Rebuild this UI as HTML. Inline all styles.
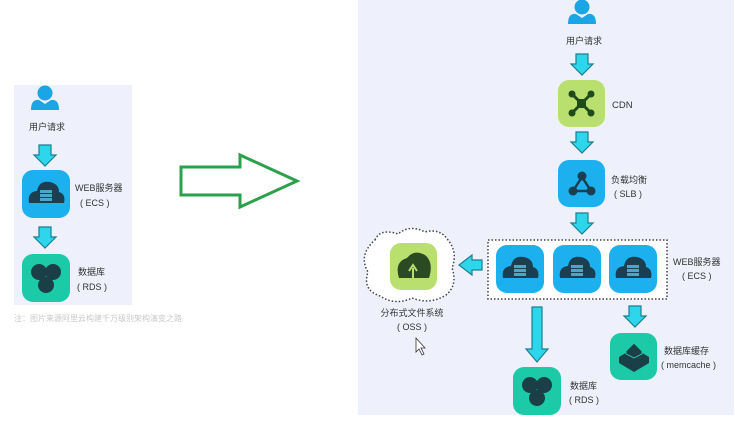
<!DOCTYPE html>
<html><head><meta charset="utf-8"><style>
html,body{margin:0;padding:0;background:#fff;}
svg{display:block;}
text{font-family:"Liberation Sans","Noto Sans CJK SC",sans-serif;fill:#333;}
</style></head><body>
<svg width="735" height="427" viewBox="0 0 735 427" xmlns="http://www.w3.org/2000/svg">
<defs>
<g id="user"><circle cx="0" cy="-7" r="7.5" fill="#1aa6e6"/><path d="M-14 10 Q-14 -1 -6 0 L0 4 L6 0 Q14 -1 14 10 Z" fill="#1aa6e6"/></g>
<g id="ecs"><rect x="-24" y="-24" width="48" height="48" rx="11" fill="#1cb0ef"/>
<path d="M-17 9 Q-19 -2 -9 -3 Q-7 -14 4 -12 Q13 -10 13 -2 Q20 0 18 9 Z" fill="#1b3f50"/>
<rect x="-6" y="-4" width="12" height="3" fill="#4aa7c9"/><rect x="-6" y="0" width="12" height="3" fill="#4aa7c9"/><rect x="-6" y="4" width="12" height="3" fill="#4aa7c9"/></g>
<g id="rds"><rect x="-24" y="-24" width="48" height="48" rx="11" fill="#1ccaa8"/>
<circle cx="-7" cy="-6" r="8" fill="#1b3f47"/><circle cx="7" cy="-6" r="8" fill="#1b3f47"/><circle cx="0" cy="7" r="8" fill="#1b3f47"/></g>
<path id="dn" d="M-6 0 H6 V10 H11 L0 21 L-11 10 H-6 Z" fill="#2ed6ec" stroke="#1a7f8f" stroke-width="1.2"/>
</defs>
<rect x="14" y="85" width="118" height="220" fill="#eef1fb"/>
<use href="#user" x="45" y="100"/>
<text x="47" y="130" font-size="9" text-anchor="middle">用户请求</text>
<use href="#dn" x="45" y="145"/>
<use href="#ecs" x="46" y="194"/>
<text x="75" y="191" font-size="9">WEB服务器</text>
<text x="80" y="206" font-size="9">( ECS )</text>
<use href="#dn" x="45" y="227"/>
<use href="#rds" x="46" y="278"/>
<text x="78" y="275" font-size="9">数据库</text>
<text x="77" y="290" font-size="9">( RDS )</text>
<text x="14" y="321" font-size="8" style="fill:#c9c9c9">注：图片来源阿里云构建千万级别架构演变之路</text>
<path d="M181 167 H240 V155 L297 181 L240 207 V195 H181 Z" fill="none" stroke="#2aa14a" stroke-width="3"/>
<rect x="358" y="0" width="376" height="415" fill="#eef1fb"/>
<use href="#user" x="582" y="14"/>
<text x="584" y="44" font-size="9" text-anchor="middle">用户请求</text>
<use href="#dn" x="582" y="54"/>
<rect x="558" y="80" width="47" height="47" rx="11" fill="#b9df6e"/>
<g stroke="#1f4a1a" stroke-width="3"><line x1="572" y1="94" x2="591" y2="113"/><line x1="591" y1="94" x2="572" y2="113"/></g>
<g fill="#1f4a1a"><circle cx="572" cy="94" r="3.5"/><circle cx="591" cy="94" r="3.5"/><circle cx="572" cy="113" r="3.5"/><circle cx="591" cy="113" r="3.5"/><rect x="577" y="99" width="9" height="9"/></g>
<text x="612" y="108" font-size="9.5">CDN</text>
<use href="#dn" x="582" y="132"/>
<rect x="558" y="160" width="47" height="47" rx="11" fill="#1cb0ef"/>
<g stroke="#1b3f50" stroke-width="2.5"><line x1="582" y1="177" x2="573" y2="191"/><line x1="582" y1="177" x2="591" y2="191"/><line x1="573" y1="191" x2="591" y2="191"/></g>
<g fill="#1b3f50"><circle cx="582" cy="176" r="4.5"/><circle cx="573" cy="191" r="4.5"/><circle cx="591" cy="191" r="4.5"/></g>
<text x="611" y="183" font-size="9">负载均衡</text>
<text x="614" y="197" font-size="9">( SLB )</text>
<use href="#dn" x="582" y="213"/>
<rect x="488" y="240" width="179" height="59" fill="#fff" stroke="#444" stroke-width="1.5" stroke-dasharray="1.5 2"/>
<use href="#ecs" x="520" y="269"/><use href="#ecs" x="577" y="269"/><use href="#ecs" x="633" y="269"/>
<text x="673" y="265" font-size="9">WEB服务器</text>
<text x="682" y="279" font-size="9">( ECS )</text>
<path d="M482 260 V270 H472 V275 L459 265 L472 255 V260 Z" fill="#2ed6ec" stroke="#1a7f8f" stroke-width="1.2"/>
<path d="M375 240 Q380 228 398 234 Q410 224 425 232 Q440 228 448 240 Q458 252 452 268 Q458 285 446 295 Q430 305 412 298 Q395 306 380 296 Q362 290 368 272 Q358 255 375 240 Z" fill="#fff" stroke="#444" stroke-width="1.5" stroke-dasharray="1.5 2"/>
<rect x="390" y="243" width="47" height="47" rx="11" fill="#b9df6e"/>
<path d="M399 278 Q394 262 407 258 Q414 249 425 255 Q434 262 429 278 Z" fill="#2c4a22"/>
<path d="M413 278 V268 M409 271 L413 265 L417 271" stroke="#b9df6e" stroke-width="2" fill="none"/>
<text x="412" y="316" font-size="9" text-anchor="middle">分布式文件系统</text>
<text x="412" y="330" font-size="9" text-anchor="middle">( OSS )</text>
<path d="M416 338 V352 L419 349 L422 355 L424 354 L421 348 L425 348 Z" fill="#fff" stroke="#333" stroke-width="0.8"/>
<path d="M532 307 H542 V349 H548 L537 362 L526 349 H532 Z" fill="#2ed6ec" stroke="#1a7f8f" stroke-width="1.2"/>
<use href="#rds" x="537" y="391"/>
<text x="570" y="389" font-size="9">数据库</text>
<text x="569" y="403" font-size="9">( RDS )</text>
<use href="#dn" x="635" y="306"/>
<rect x="610" y="333" width="47" height="47" rx="11" fill="#1ccaa8"/>
<path d="M619 357 L634 348 L649 357 V363 L634 372 L619 363 Z" fill="#1b3f47"/>
<path d="M626 351 L634 343 L642 351 V354 L634 358 L626 354 Z" fill="#1b3f47" stroke="#1ccaa8" stroke-width="1"/>
<text x="664" y="354" font-size="9">数据库缓存</text>
<text x="661" y="368" font-size="9">( memcache )</text>
</svg>
</body></html>
